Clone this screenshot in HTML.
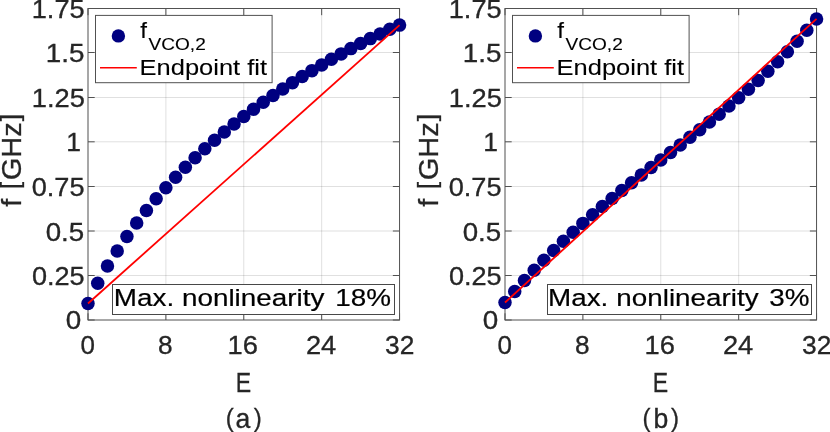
<!DOCTYPE html>
<html lang="en"><head><meta charset="utf-8"><title>VCO tuning linearity</title>
<style>
html,body{margin:0;padding:0;background:#fff;}
body{width:830px;height:432px;overflow:hidden;font-family:"Liberation Sans",sans-serif;}
svg{display:block;will-change:transform;}
svg text{font-family:"Liberation Sans",sans-serif;}
</style></head>
<body>
<svg width="830" height="432" viewBox="0 0 830 432">
<rect width="830" height="432" fill="#fff"/>
<line x1="165.8875" y1="8.5" x2="165.8875" y2="320.0" stroke="#262626" stroke-opacity="0.14" stroke-width="1"/>
<line x1="243.775" y1="8.5" x2="243.775" y2="320.0" stroke="#262626" stroke-opacity="0.14" stroke-width="1"/>
<line x1="321.6625" y1="8.5" x2="321.6625" y2="320.0" stroke="#262626" stroke-opacity="0.14" stroke-width="1"/>
<line x1="88" y1="275.50" x2="399.55" y2="275.50" stroke="#262626" stroke-opacity="0.14" stroke-width="1"/>
<line x1="88" y1="231.00" x2="399.55" y2="231.00" stroke="#262626" stroke-opacity="0.14" stroke-width="1"/>
<line x1="88" y1="186.50" x2="399.55" y2="186.50" stroke="#262626" stroke-opacity="0.14" stroke-width="1"/>
<line x1="88" y1="141.80" x2="399.55" y2="141.80" stroke="#262626" stroke-opacity="0.14" stroke-width="1"/>
<line x1="88" y1="97.50" x2="399.55" y2="97.50" stroke="#262626" stroke-opacity="0.14" stroke-width="1"/>
<line x1="88" y1="52.50" x2="399.55" y2="52.50" stroke="#262626" stroke-opacity="0.14" stroke-width="1"/>
<line x1="88.0" y1="320.0" x2="88.0" y2="313.3" stroke="#515151" stroke-width="1.0"/>
<line x1="88.0" y1="8.5" x2="88.0" y2="15.2" stroke="#515151" stroke-width="1.0"/>
<line x1="165.8875" y1="320.0" x2="165.8875" y2="313.3" stroke="#515151" stroke-width="1.0"/>
<line x1="165.8875" y1="8.5" x2="165.8875" y2="15.2" stroke="#515151" stroke-width="1.0"/>
<line x1="243.775" y1="320.0" x2="243.775" y2="313.3" stroke="#515151" stroke-width="1.0"/>
<line x1="243.775" y1="8.5" x2="243.775" y2="15.2" stroke="#515151" stroke-width="1.0"/>
<line x1="321.6625" y1="320.0" x2="321.6625" y2="313.3" stroke="#515151" stroke-width="1.0"/>
<line x1="321.6625" y1="8.5" x2="321.6625" y2="15.2" stroke="#515151" stroke-width="1.0"/>
<line x1="399.55" y1="320.0" x2="399.55" y2="313.3" stroke="#515151" stroke-width="1.0"/>
<line x1="399.55" y1="8.5" x2="399.55" y2="15.2" stroke="#515151" stroke-width="1.0"/>
<line x1="88" y1="320.00" x2="94.7" y2="320.00" stroke="#515151" stroke-width="1.0"/>
<line x1="399.55" y1="320.00" x2="392.85" y2="320.00" stroke="#515151" stroke-width="1.0"/>
<line x1="88" y1="275.50" x2="94.7" y2="275.50" stroke="#515151" stroke-width="1.0"/>
<line x1="399.55" y1="275.50" x2="392.85" y2="275.50" stroke="#515151" stroke-width="1.0"/>
<line x1="88" y1="231.00" x2="94.7" y2="231.00" stroke="#515151" stroke-width="1.0"/>
<line x1="399.55" y1="231.00" x2="392.85" y2="231.00" stroke="#515151" stroke-width="1.0"/>
<line x1="88" y1="186.50" x2="94.7" y2="186.50" stroke="#515151" stroke-width="1.0"/>
<line x1="399.55" y1="186.50" x2="392.85" y2="186.50" stroke="#515151" stroke-width="1.0"/>
<line x1="88" y1="141.80" x2="94.7" y2="141.80" stroke="#515151" stroke-width="1.0"/>
<line x1="399.55" y1="141.80" x2="392.85" y2="141.80" stroke="#515151" stroke-width="1.0"/>
<line x1="88" y1="97.50" x2="94.7" y2="97.50" stroke="#515151" stroke-width="1.0"/>
<line x1="399.55" y1="97.50" x2="392.85" y2="97.50" stroke="#515151" stroke-width="1.0"/>
<line x1="88" y1="52.50" x2="94.7" y2="52.50" stroke="#515151" stroke-width="1.0"/>
<line x1="399.55" y1="52.50" x2="392.85" y2="52.50" stroke="#515151" stroke-width="1.0"/>
<line x1="88" y1="8.50" x2="94.7" y2="8.50" stroke="#515151" stroke-width="1.0"/>
<line x1="399.55" y1="8.50" x2="392.85" y2="8.50" stroke="#515151" stroke-width="1.0"/>
<rect x="88" y="8.5" width="311.55" height="311.50" fill="none" stroke="#515151" stroke-width="1.0"/>
<circle cx="88.00" cy="303.50" r="6.75" fill="#000080"/>
<circle cx="97.74" cy="283.20" r="6.75" fill="#000080"/>
<circle cx="107.47" cy="266.10" r="6.75" fill="#000080"/>
<circle cx="117.21" cy="250.91" r="6.75" fill="#000080"/>
<circle cx="126.94" cy="236.45" r="6.75" fill="#000080"/>
<circle cx="136.68" cy="223.03" r="6.75" fill="#000080"/>
<circle cx="146.42" cy="210.50" r="6.75" fill="#000080"/>
<circle cx="156.15" cy="198.76" r="6.75" fill="#000080"/>
<circle cx="165.89" cy="187.69" r="6.75" fill="#000080"/>
<circle cx="175.62" cy="177.23" r="6.75" fill="#000080"/>
<circle cx="185.36" cy="167.29" r="6.75" fill="#000080"/>
<circle cx="195.10" cy="157.84" r="6.75" fill="#000080"/>
<circle cx="204.83" cy="148.83" r="6.75" fill="#000080"/>
<circle cx="214.57" cy="140.21" r="6.75" fill="#000080"/>
<circle cx="224.30" cy="131.96" r="6.75" fill="#000080"/>
<circle cx="234.04" cy="124.06" r="6.75" fill="#000080"/>
<circle cx="243.78" cy="116.48" r="6.75" fill="#000080"/>
<circle cx="253.51" cy="109.20" r="6.75" fill="#000080"/>
<circle cx="263.25" cy="102.19" r="6.75" fill="#000080"/>
<circle cx="272.98" cy="95.44" r="6.75" fill="#000080"/>
<circle cx="282.72" cy="88.93" r="6.75" fill="#000080"/>
<circle cx="292.45" cy="82.64" r="6.75" fill="#000080"/>
<circle cx="302.19" cy="76.55" r="6.75" fill="#000080"/>
<circle cx="311.93" cy="70.64" r="6.75" fill="#000080"/>
<circle cx="321.66" cy="64.90" r="6.75" fill="#000080"/>
<circle cx="331.40" cy="59.32" r="6.75" fill="#000080"/>
<circle cx="341.13" cy="53.89" r="6.75" fill="#000080"/>
<circle cx="350.87" cy="48.62" r="6.75" fill="#000080"/>
<circle cx="360.61" cy="43.52" r="6.75" fill="#000080"/>
<circle cx="370.34" cy="38.61" r="6.75" fill="#000080"/>
<circle cx="380.08" cy="33.93" r="6.75" fill="#000080"/>
<circle cx="389.81" cy="29.34" r="6.75" fill="#000080"/>
<circle cx="399.55" cy="25.11" r="6.75" fill="#000080"/>
<line x1="88.0" y1="303.50" x2="399.55" y2="25.11" stroke="#ff0000" stroke-width="1.8"/>
<rect x="95.5" y="15.4" width="176.6" height="67.3" fill="#fff" stroke="#515151" stroke-width="1"/>
<circle cx="118.4" cy="35.9" r="6.7" fill="#000080"/>
<line x1="100.0" y1="67.75" x2="136.8" y2="67.75" stroke="#ff0000" stroke-width="1.5"/>
<text transform="translate(140.30,38.2) scale(1.0953,0.99)" font-size="22.1" fill="#000" stroke="#000" stroke-width="0.12">f<tspan x="7.55" y="11.52" font-size="17.4">VCO,2</tspan></text>
<text transform="translate(139.50,74.60) scale(1.1535,0.99)" x="0.07" y="0" font-size="22.1" fill="#000" stroke="#000" stroke-width="0.1">Endpoint fit</text>
<rect x="112.5" y="284.5" width="282.0" height="30" fill="#fff" stroke="#484848" stroke-width="1"/>
<text transform="translate(116.10,306.20) scale(1.1505,0.99)" font-size="24.2" fill="#000" stroke="#000" stroke-width="0.2" xml:space="preserve"><tspan x="-1.99" y="0">Max.</tspan> <tspan x="57.25" y="0">nonlinearity</tspan> <tspan x="190.51" y="0">18%</tspan></text>
<text transform="translate(65.81,328.70) scale(1.1497,1.06)" font-size="24.2" fill="#262626" stroke="#262626" stroke-width="0.3">0</text>
<text transform="translate(31.94,285.00) scale(1.1199,1.06)" font-size="24.2" fill="#262626" stroke="#262626" stroke-width="0.3">0.25</text>
<text transform="translate(45.67,240.50) scale(1.1443,1.06)" font-size="24.2" fill="#262626" stroke="#262626" stroke-width="0.3">0.5</text>
<text transform="translate(31.70,196.00) scale(1.1219,1.06)" font-size="24.2" fill="#262626" stroke="#262626" stroke-width="0.3">0.75</text>
<text transform="translate(66.14,151.20) scale(1.0936,1.06)" font-size="24.2" fill="#262626" stroke="#262626" stroke-width="0.3">1</text>
<text transform="translate(31.72,107.10) scale(1.1279,1.06)" font-size="24.2" fill="#262626" stroke="#262626" stroke-width="0.3">1.25</text>
<text transform="translate(45.68,61.90) scale(1.1500,1.06)" font-size="24.2" fill="#262626" stroke="#262626" stroke-width="0.3">1.5</text>
<text transform="translate(31.73,18.00) scale(1.1234,1.06)" font-size="24.2" fill="#262626" stroke="#262626" stroke-width="0.3">1.75</text>
<text transform="translate(80.00,354.20) scale(1.0731,1.06)" x="0.44" y="0" font-size="24.2" fill="#262626" stroke="#262626" stroke-width="0.3">0</text>
<text transform="translate(157.69,354.20) scale(1.0847,1.06)" x="0.36" y="0" font-size="24.2" fill="#262626" stroke="#262626" stroke-width="0.3">8</text>
<text transform="translate(227.18,354.20) scale(1.1282,1.06)" x="0.30" y="0" font-size="24.2" fill="#262626" stroke="#262626" stroke-width="0.3">16</text>
<text transform="translate(305.77,354.20) scale(1.1268,1.06)" x="0.13" y="0" font-size="24.2" fill="#262626" stroke="#262626" stroke-width="0.3">24</text>
<text transform="translate(384.45,354.20) scale(1.0898,1.06)" x="0.55" y="0" font-size="24.2" fill="#262626" stroke="#262626" stroke-width="0.3">32</text>
<text transform="translate(234.97,391.70) scale(0.8667,1.06)" x="0.83" y="0" font-size="26.6" fill="#262626" stroke="#262626" stroke-width="0.3">E</text>
<text transform="translate(225.25,428.30) scale(1.0000,1.06)" font-size="26.6" fill="#262626" stroke="#262626" stroke-width="0.3" xml:space="preserve"><tspan x="0.60" y="-1.67" font-size="24.00">(</tspan><tspan x="10.16" y="0">a</tspan><tspan x="28.47" y="-1.67" font-size="24.00">)</tspan></text>
<text transform="translate(20.60,207.88) rotate(-90) scale(1.0910,1.04)" font-size="26.6" fill="#262626" stroke="#262626" stroke-width="0.3" xml:space="preserve"><tspan x="0.97" y="0">f</tspan> <tspan x="17.12" y="-1.71" font-size="24.46">[</tspan><tspan x="25.27" y="0">GHz</tspan><tspan x="79.50" y="-1.71" font-size="24.46">]</tspan></text>
<line x1="582.8875" y1="8.5" x2="582.8875" y2="320.0" stroke="#262626" stroke-opacity="0.14" stroke-width="1"/>
<line x1="660.775" y1="8.5" x2="660.775" y2="320.0" stroke="#262626" stroke-opacity="0.14" stroke-width="1"/>
<line x1="738.6625" y1="8.5" x2="738.6625" y2="320.0" stroke="#262626" stroke-opacity="0.14" stroke-width="1"/>
<line x1="505" y1="275.50" x2="816.55" y2="275.50" stroke="#262626" stroke-opacity="0.14" stroke-width="1"/>
<line x1="505" y1="231.00" x2="816.55" y2="231.00" stroke="#262626" stroke-opacity="0.14" stroke-width="1"/>
<line x1="505" y1="186.50" x2="816.55" y2="186.50" stroke="#262626" stroke-opacity="0.14" stroke-width="1"/>
<line x1="505" y1="141.80" x2="816.55" y2="141.80" stroke="#262626" stroke-opacity="0.14" stroke-width="1"/>
<line x1="505" y1="97.50" x2="816.55" y2="97.50" stroke="#262626" stroke-opacity="0.14" stroke-width="1"/>
<line x1="505" y1="52.50" x2="816.55" y2="52.50" stroke="#262626" stroke-opacity="0.14" stroke-width="1"/>
<line x1="505.0" y1="320.0" x2="505.0" y2="313.3" stroke="#515151" stroke-width="1.0"/>
<line x1="505.0" y1="8.5" x2="505.0" y2="15.2" stroke="#515151" stroke-width="1.0"/>
<line x1="582.8875" y1="320.0" x2="582.8875" y2="313.3" stroke="#515151" stroke-width="1.0"/>
<line x1="582.8875" y1="8.5" x2="582.8875" y2="15.2" stroke="#515151" stroke-width="1.0"/>
<line x1="660.775" y1="320.0" x2="660.775" y2="313.3" stroke="#515151" stroke-width="1.0"/>
<line x1="660.775" y1="8.5" x2="660.775" y2="15.2" stroke="#515151" stroke-width="1.0"/>
<line x1="738.6625" y1="320.0" x2="738.6625" y2="313.3" stroke="#515151" stroke-width="1.0"/>
<line x1="738.6625" y1="8.5" x2="738.6625" y2="15.2" stroke="#515151" stroke-width="1.0"/>
<line x1="816.55" y1="320.0" x2="816.55" y2="313.3" stroke="#515151" stroke-width="1.0"/>
<line x1="816.55" y1="8.5" x2="816.55" y2="15.2" stroke="#515151" stroke-width="1.0"/>
<line x1="505" y1="320.00" x2="511.7" y2="320.00" stroke="#515151" stroke-width="1.0"/>
<line x1="816.55" y1="320.00" x2="809.8499999999999" y2="320.00" stroke="#515151" stroke-width="1.0"/>
<line x1="505" y1="275.50" x2="511.7" y2="275.50" stroke="#515151" stroke-width="1.0"/>
<line x1="816.55" y1="275.50" x2="809.8499999999999" y2="275.50" stroke="#515151" stroke-width="1.0"/>
<line x1="505" y1="231.00" x2="511.7" y2="231.00" stroke="#515151" stroke-width="1.0"/>
<line x1="816.55" y1="231.00" x2="809.8499999999999" y2="231.00" stroke="#515151" stroke-width="1.0"/>
<line x1="505" y1="186.50" x2="511.7" y2="186.50" stroke="#515151" stroke-width="1.0"/>
<line x1="816.55" y1="186.50" x2="809.8499999999999" y2="186.50" stroke="#515151" stroke-width="1.0"/>
<line x1="505" y1="141.80" x2="511.7" y2="141.80" stroke="#515151" stroke-width="1.0"/>
<line x1="816.55" y1="141.80" x2="809.8499999999999" y2="141.80" stroke="#515151" stroke-width="1.0"/>
<line x1="505" y1="97.50" x2="511.7" y2="97.50" stroke="#515151" stroke-width="1.0"/>
<line x1="816.55" y1="97.50" x2="809.8499999999999" y2="97.50" stroke="#515151" stroke-width="1.0"/>
<line x1="505" y1="52.50" x2="511.7" y2="52.50" stroke="#515151" stroke-width="1.0"/>
<line x1="816.55" y1="52.50" x2="809.8499999999999" y2="52.50" stroke="#515151" stroke-width="1.0"/>
<line x1="505" y1="8.50" x2="511.7" y2="8.50" stroke="#515151" stroke-width="1.0"/>
<line x1="816.55" y1="8.50" x2="809.8499999999999" y2="8.50" stroke="#515151" stroke-width="1.0"/>
<rect x="505" y="8.5" width="311.55" height="311.50" fill="none" stroke="#515151" stroke-width="1.0"/>
<circle cx="505.00" cy="302.50" r="6.75" fill="#000080"/>
<circle cx="514.74" cy="291.40" r="6.75" fill="#000080"/>
<circle cx="524.47" cy="280.53" r="6.75" fill="#000080"/>
<circle cx="534.21" cy="270.21" r="6.75" fill="#000080"/>
<circle cx="543.94" cy="260.23" r="6.75" fill="#000080"/>
<circle cx="553.68" cy="250.58" r="6.75" fill="#000080"/>
<circle cx="563.42" cy="241.23" r="6.75" fill="#000080"/>
<circle cx="573.15" cy="232.18" r="6.75" fill="#000080"/>
<circle cx="582.89" cy="223.39" r="6.75" fill="#000080"/>
<circle cx="592.62" cy="214.85" r="6.75" fill="#000080"/>
<circle cx="602.36" cy="206.54" r="6.75" fill="#000080"/>
<circle cx="612.10" cy="198.43" r="6.75" fill="#000080"/>
<circle cx="621.83" cy="190.48" r="6.75" fill="#000080"/>
<circle cx="631.57" cy="182.69" r="6.75" fill="#000080"/>
<circle cx="641.30" cy="175.01" r="6.75" fill="#000080"/>
<circle cx="651.04" cy="167.43" r="6.75" fill="#000080"/>
<circle cx="660.77" cy="159.90" r="6.75" fill="#000080"/>
<circle cx="670.51" cy="152.40" r="6.75" fill="#000080"/>
<circle cx="680.25" cy="144.90" r="6.75" fill="#000080"/>
<circle cx="689.98" cy="137.35" r="6.75" fill="#000080"/>
<circle cx="699.72" cy="129.73" r="6.75" fill="#000080"/>
<circle cx="709.45" cy="122.01" r="6.75" fill="#000080"/>
<circle cx="719.19" cy="114.13" r="6.75" fill="#000080"/>
<circle cx="728.93" cy="106.08" r="6.75" fill="#000080"/>
<circle cx="738.66" cy="97.80" r="6.75" fill="#000080"/>
<circle cx="748.40" cy="89.25" r="6.75" fill="#000080"/>
<circle cx="758.13" cy="80.41" r="6.75" fill="#000080"/>
<circle cx="767.87" cy="71.22" r="6.75" fill="#000080"/>
<circle cx="777.61" cy="61.65" r="6.75" fill="#000080"/>
<circle cx="787.34" cy="51.65" r="6.75" fill="#000080"/>
<circle cx="797.08" cy="41.18" r="6.75" fill="#000080"/>
<circle cx="806.81" cy="30.30" r="6.75" fill="#000080"/>
<circle cx="816.55" cy="18.90" r="6.75" fill="#000080"/>
<line x1="505.0" y1="302.50" x2="816.55" y2="18.90" stroke="#ff0000" stroke-width="1.8"/>
<rect x="512.5" y="15.4" width="176.6" height="67.3" fill="#fff" stroke="#515151" stroke-width="1"/>
<circle cx="535.4" cy="35.9" r="6.7" fill="#000080"/>
<line x1="517.0" y1="67.75" x2="553.8" y2="67.75" stroke="#ff0000" stroke-width="1.5"/>
<text transform="translate(557.30,38.2) scale(1.0953,0.99)" font-size="22.1" fill="#000" stroke="#000" stroke-width="0.12">f<tspan x="7.55" y="11.52" font-size="17.4">VCO,2</tspan></text>
<text transform="translate(556.50,74.60) scale(1.1535,0.99)" x="0.07" y="0" font-size="22.1" fill="#000" stroke="#000" stroke-width="0.1">Endpoint fit</text>
<rect x="547.5" y="284.5" width="264.0" height="30" fill="#fff" stroke="#484848" stroke-width="1"/>
<text transform="translate(550.50,306.20) scale(1.1496,0.99)" font-size="24.2" fill="#000" stroke="#000" stroke-width="0.2" xml:space="preserve"><tspan x="-2.14" y="0">Max.</tspan> <tspan x="57.25" y="0">nonlinearity</tspan> <tspan x="190.38" y="0">3%</tspan></text>
<text transform="translate(482.81,328.70) scale(1.1497,1.06)" font-size="24.2" fill="#262626" stroke="#262626" stroke-width="0.3">0</text>
<text transform="translate(448.94,285.00) scale(1.1199,1.06)" font-size="24.2" fill="#262626" stroke="#262626" stroke-width="0.3">0.25</text>
<text transform="translate(462.67,240.50) scale(1.1443,1.06)" font-size="24.2" fill="#262626" stroke="#262626" stroke-width="0.3">0.5</text>
<text transform="translate(448.70,196.00) scale(1.1219,1.06)" font-size="24.2" fill="#262626" stroke="#262626" stroke-width="0.3">0.75</text>
<text transform="translate(483.14,151.20) scale(1.0936,1.06)" font-size="24.2" fill="#262626" stroke="#262626" stroke-width="0.3">1</text>
<text transform="translate(448.72,107.10) scale(1.1279,1.06)" font-size="24.2" fill="#262626" stroke="#262626" stroke-width="0.3">1.25</text>
<text transform="translate(462.68,61.90) scale(1.1500,1.06)" font-size="24.2" fill="#262626" stroke="#262626" stroke-width="0.3">1.5</text>
<text transform="translate(448.73,18.00) scale(1.1234,1.06)" font-size="24.2" fill="#262626" stroke="#262626" stroke-width="0.3">1.75</text>
<text transform="translate(497.00,354.20) scale(1.0731,1.06)" x="0.44" y="0" font-size="24.2" fill="#262626" stroke="#262626" stroke-width="0.3">0</text>
<text transform="translate(574.69,354.20) scale(1.0847,1.06)" x="0.36" y="0" font-size="24.2" fill="#262626" stroke="#262626" stroke-width="0.3">8</text>
<text transform="translate(644.18,354.20) scale(1.1282,1.06)" x="0.30" y="0" font-size="24.2" fill="#262626" stroke="#262626" stroke-width="0.3">16</text>
<text transform="translate(722.77,354.20) scale(1.1268,1.06)" x="0.13" y="0" font-size="24.2" fill="#262626" stroke="#262626" stroke-width="0.3">24</text>
<text transform="translate(801.45,354.20) scale(1.0898,1.06)" x="0.55" y="0" font-size="24.2" fill="#262626" stroke="#262626" stroke-width="0.3">32</text>
<text transform="translate(651.97,391.70) scale(0.8667,1.06)" x="0.83" y="0" font-size="26.6" fill="#262626" stroke="#262626" stroke-width="0.3">E</text>
<text transform="translate(641.95,428.30) scale(1.0000,1.06)" font-size="26.6" fill="#262626" stroke="#262626" stroke-width="0.3" xml:space="preserve"><tspan x="0.60" y="-1.67" font-size="24.00">(</tspan><tspan x="11.61" y="0">b</tspan><tspan x="29.05" y="-1.67" font-size="24.00">)</tspan></text>
<text transform="translate(437.60,207.88) rotate(-90) scale(1.0910,1.04)" font-size="26.6" fill="#262626" stroke="#262626" stroke-width="0.3" xml:space="preserve"><tspan x="0.97" y="0">f</tspan> <tspan x="17.12" y="-1.71" font-size="24.46">[</tspan><tspan x="25.27" y="0">GHz</tspan><tspan x="79.50" y="-1.71" font-size="24.46">]</tspan></text>
</svg>
</body></html>
